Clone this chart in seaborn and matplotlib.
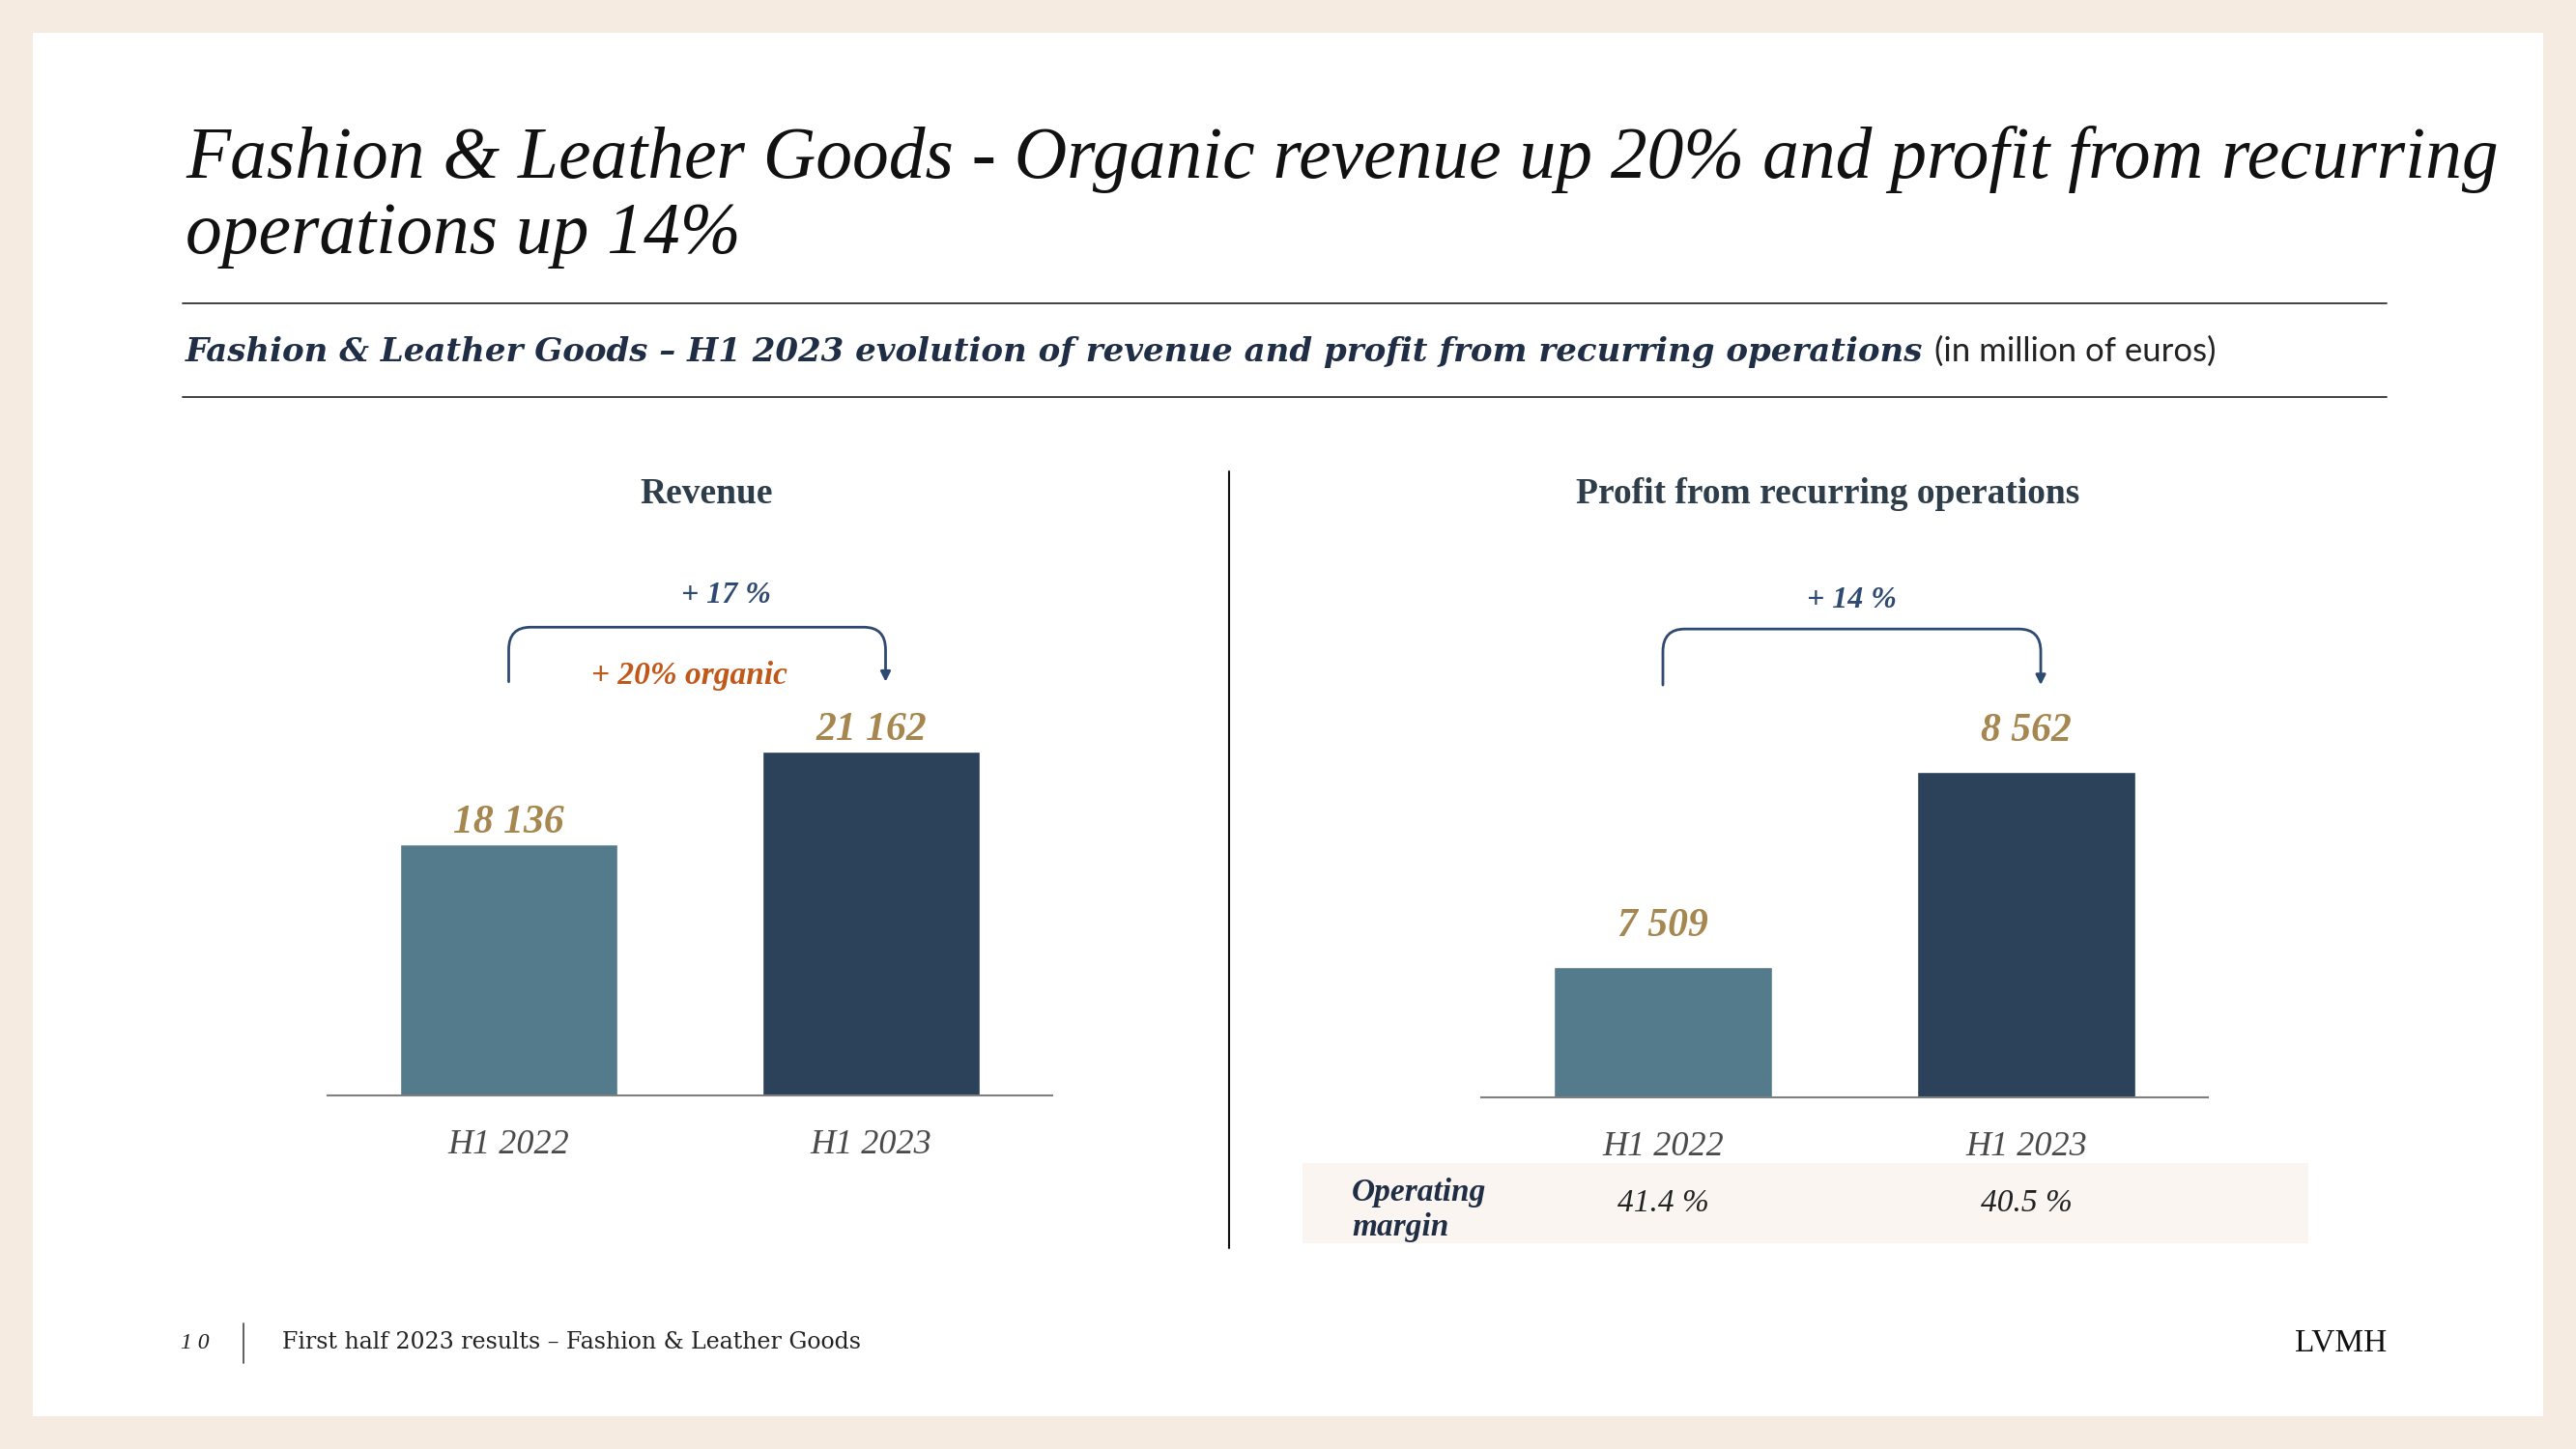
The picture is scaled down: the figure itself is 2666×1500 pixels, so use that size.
import matplotlib
matplotlib.use("Agg")
import matplotlib.pyplot as plt
from matplotlib.lines import Line2D
from matplotlib.patches import Rectangle, FancyArrowPatch
from matplotlib.path import Path
import matplotlib.transforms as mtransforms
import seaborn as sns

# --- data -------------------------------------------------------------
periods = ["H1 2022", "H1 2023"]
revenue = [18136, 21162]
profit = [7509, 8562]
margin = ["41.4 %", "40.5 %"]
revenue_growth = "+ 17 %"
revenue_organic = "+ 20% organic"
profit_growth = "+ 14 %"

title_1 = "Fashion & Leather Goods - Organic revenue up 20% and profit from recurring"
title_2 = "operations up 14%"
subtitle = "Fashion & Leather Goods \u2013 H1 2023 evolution of revenue and profit from recurring operations"
subtitle_unit = "(in million of euros)"
footer = "First half 2023 results \u2013 Fashion & Leather Goods"

# --- style ------------------------------------------------------------
sns.set_theme(style="white")
plt.rcParams["font.family"] = ["Liberation Serif", "DejaVu Serif"]

W, H = 2666, 1500
BEIGE = "#F5EBE0"
NAVY = "#1F2D45"
BAR_COLORS = ["#537B8C", "#2C415A"]
GOLD = "#A5874F"
BRACKET = "#2F4A72"
ORANGE = "#C0581A"


def fx(x):
    return x / W


def fy(y):
    return 1 - y / H


fig = plt.figure(figsize=(W / 100, H / 100), dpi=100)
fig.patch.set_facecolor(BEIGE)
fig.add_artist(Rectangle((fx(34), fy(1466)), fx(2632 - 34), (1466 - 34) / H,
                         transform=fig.transFigure, facecolor="white", edgecolor="none", zorder=0))

# titles
fig.text(fx(192), fy(184), title_1, fontsize=54.4, style="italic", color="#111111", va="baseline")
fig.text(fx(192), fy(262), title_2, fontsize=54.4, style="italic", color="#111111", va="baseline")
for yy in (314, 411):
    fig.add_artist(Line2D([fx(189), fx(2470)], [fy(yy), fy(yy)], transform=fig.transFigure,
                          color="#333333", lw=1.3))
sub = fig.text(fx(192), fy(374), subtitle, fontsize=24.5, style="italic", weight="bold",
               family="DejaVu Serif", color=NAVY, va="baseline")
fig.canvas.draw()
bb = sub.get_window_extent()
fig.text((bb.x1 + 12) / W, fy(374), subtitle_unit, fontsize=25, family="Lato",
         color="#222222", va="baseline")

# divider
fig.add_artist(Line2D([fx(1272), fx(1272)], [fy(488), fy(1292)], transform=fig.transFigure,
                      color="#111111", lw=1.5))

# margin band
fig.add_artist(Rectangle((fx(1348), fy(1287)), fx(2389 - 1348), (1287 - 1204) / H,
                         transform=fig.transFigure, facecolor="#FAF5F0", edgecolor="none", zorder=0))


def bracket(ax, y_top, y_bot, y_text, label, x_text, x0=0, x1=1.04):
    tr = mtransforms.blended_transform_factory(ax.transData, ax.transAxes)
    rx, ry = 0.06, 0.035
    verts = [(x0, y_bot), (x0, y_top - ry), (x0, y_top), (x0 + rx, y_top),
             (x1 - rx, y_top), (x1, y_top), (x1, y_top - ry), (x1, y_bot)]
    codes = [Path.MOVETO, Path.LINETO, Path.CURVE3, Path.CURVE3,
             Path.LINETO, Path.CURVE3, Path.CURVE3, Path.LINETO]
    arr = FancyArrowPatch(path=Path(verts, codes), transform=tr,
                          arrowstyle="-|>,head_length=0.5,head_width=0.25",
                          mutation_scale=12, color=BRACKET, lw=2, clip_on=False)
    ax.add_patch(arr)
    ax.text(x_text, y_text, label, transform=tr, ha="center", va="center", fontsize=23,
            style="italic", weight="bold", color=BRACKET)


def panel(ax, values, ylim, title, title_x, label_offset):
    sns.barplot(x=periods, y=values, hue=periods, palette=BAR_COLORS, width=0.6,
                legend=False, saturation=1, ax=ax)
    ax.set_xlim(-0.5, 1.5)
    ax.set_ylim(*ylim)
    ax.set_facecolor("none")
    for s in ("top", "left", "right"):
        ax.spines[s].set_visible(False)
    ax.spines["bottom"].set_color("#7F7F7F")
    ax.spines["bottom"].set_linewidth(1.5)
    ax.set_yticks([])
    ax.tick_params(axis="x", length=0, pad=25, labelsize=26, labelcolor="#4A4A4A")
    for t in ax.get_xticklabels():
        t.set_style("italic")
    ax.set_xlabel("")
    ax.set_ylabel("")
    for i, v in enumerate(values):
        ax.annotate(f"{v:,}".replace(",", " "), (i, v), xytext=(0, label_offset),
                    textcoords="offset points", ha="center", va="center", fontsize=30,
                    style="italic", weight="bold", color=GOLD)
    ax.text(title_x, 0.937, title, transform=ax.transAxes, ha="center", va="center",
            fontsize=27, weight="bold", color="#2E3D4A")


# axes span y 470..1134 px
ax1 = fig.add_axes([fx(339), fy(1134), fx(1089 - 339), (1134 - 470) / H])
panel(ax1, revenue, (9941, 30871), "Revenue", 0.523, 16)
bracket(ax1, 0.730, 0.645, 0.779, revenue_growth, 0.6)
ax1.text(0.5, 0.655, revenue_organic, transform=mtransforms.blended_transform_factory(ax1.transData, ax1.transAxes),
         ha="center", va="center", fontsize=24, style="italic", weight="bold", color=ORANGE)

ax2 = fig.add_axes([fx(1533), fy(1136), fx(2285 - 1533), (1136 - 470) / H])
panel(ax2, profit, (6805, 10277), "Profit from recurring operations", 0.477, 30)
bracket(ax2, 0.728, 0.641, 0.772, profit_growth, 0.52)

# operating margin row
fig.text(fx(1399), fy(1234), "Operating", fontsize=24, style="italic", weight="bold",
         color=NAVY, va="center")
fig.text(fx(1399), fy(1271), "margin", fontsize=24, style="italic", weight="bold",
         color=NAVY, va="center")
tr2 = mtransforms.blended_transform_factory(ax2.transData, fig.transFigure)
for i, m in enumerate(margin):
    ax2.text(i, fy(1246), m, transform=tr2, ha="center", va="center", fontsize=24,
             style="italic", color="#222222", clip_on=False)

# footer
fig.text(fx(187), fy(1390), "1 0", fontsize=17, style="italic", color="#222222", va="center")
fig.add_artist(Line2D([fx(252), fx(252)], [fy(1370), fy(1411)], transform=fig.transFigure,
                      color="#444444", lw=1.2))
fig.text(fx(292), fy(1390), footer, fontsize=17, family="DejaVu Serif", color="#222222", va="center")
fig.text(fx(2470), fy(1390), "LVMH", fontsize=24, color="#111111", va="center", ha="right")

fig.savefig("out.png", dpi=100, facecolor=fig.get_facecolor())
